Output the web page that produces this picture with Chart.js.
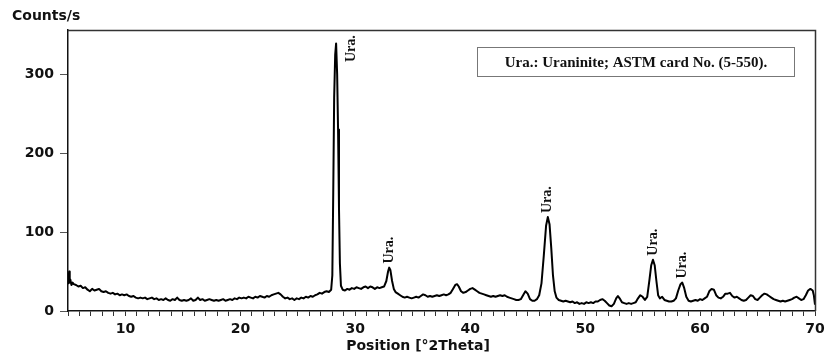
<!DOCTYPE html>
<html>
<head>
<meta charset="utf-8">
<script src="https://cdn.jsdelivr.net/npm/chart.js@4.4.0/dist/chart.umd.min.js"></script>
<style>
  html, body { margin: 0; padding: 0; background: #fff; overflow: hidden; }
  #wrap { width: 826px; height: 358px; }
  #xrd { display: block; }
</style>
</head>
<body>
<div id="wrap"><canvas id="xrd" width="826" height="358"></canvas></div>
<script>
// Diffraction pattern, position in degrees 2Theta and intensity in counts/s
const twoTheta = [
  5.0, 5.05, 5.1, 5.15, 5.2, 5.3, 5.4, 5.5, 5.7, 5.9, 6.1, 6.3, 6.5, 6.7, 6.9, 7.1, 7.3, 7.5, 7.7, 7.9,
  8.1, 8.3, 8.5, 8.7, 8.9, 9.1, 9.3, 9.5, 9.7, 9.9, 10.1, 10.3, 10.5, 10.7, 10.9, 11.1, 11.3, 11.5, 11.7, 11.9,
  12.1, 12.3, 12.5, 12.7, 12.9, 13.1, 13.3, 13.5, 13.7, 13.9, 14.1, 14.3, 14.5, 14.7, 14.9, 15.1, 15.3, 15.5, 15.7, 15.9,
  16.1, 16.3, 16.5, 16.7, 16.9, 17.1, 17.3, 17.5, 17.7, 17.9, 18.1, 18.3, 18.5, 18.7, 18.9, 19.1, 19.3, 19.5, 19.7, 19.9,
  20.1, 20.3, 20.5, 20.7, 20.9, 21.1, 21.3, 21.5, 21.7, 21.9, 22.1, 22.3, 22.5, 22.7, 22.9, 23.1, 23.3, 23.5, 23.7, 23.9,
  24.1, 24.3, 24.5, 24.7, 24.9, 25.1, 25.3, 25.5, 25.7, 25.9, 26.1, 26.3, 26.5, 26.7, 26.9, 27.1, 27.3, 27.5, 27.7, 27.9,
  28.0, 28.08, 28.16, 28.25, 28.33, 28.42, 28.5, 28.58, 28.66, 28.75, 28.9, 29.1, 29.3, 29.5, 29.7, 29.9,
  30.1, 30.3, 30.5, 30.7, 30.9, 31.1, 31.3, 31.5, 31.7, 31.9, 32.1, 32.3, 32.5, 32.7, 32.85, 32.95, 33.05, 33.2, 33.35, 33.5,
  33.7, 33.9, 34.1, 34.3, 34.5, 34.7, 34.9, 35.1, 35.3, 35.5, 35.7, 35.9, 36.1, 36.3, 36.5, 36.7, 36.9, 37.1, 37.3, 37.5,
  37.7, 37.9, 38.1, 38.3, 38.5, 38.7, 38.85, 39.0, 39.2, 39.4, 39.6, 39.8, 40.0, 40.2, 40.4, 40.6, 40.8, 41.0, 41.2, 41.4,
  41.6, 41.8, 42.0, 42.2, 42.4, 42.6, 42.8, 43.0, 43.2, 43.4, 43.6, 43.8, 44.0, 44.2, 44.4, 44.6, 44.8, 45.0, 45.2, 45.4,
  45.6, 45.8, 46.0, 46.2, 46.4, 46.6, 46.75, 46.9, 47.05, 47.2, 47.35, 47.5, 47.7, 47.9, 48.1, 48.3, 48.5, 48.7, 48.9, 49.1,
  49.3, 49.5, 49.7, 49.9, 50.1, 50.3, 50.5, 50.7, 50.9, 51.1, 51.3, 51.5, 51.7, 51.9, 52.1, 52.3, 52.5, 52.7, 52.85, 53.0,
  53.2, 53.4, 53.6, 53.8, 54.0, 54.2, 54.4, 54.6, 54.8, 55.0, 55.2, 55.4, 55.6, 55.75, 55.9, 56.05, 56.2, 56.35, 56.5, 56.7,
  56.9, 57.1, 57.3, 57.5, 57.7, 57.9, 58.1, 58.3, 58.45, 58.6, 58.8, 59.0, 59.2, 59.4, 59.6, 59.8, 60.0, 60.2, 60.4, 60.6,
  60.8, 61.0, 61.2, 61.4, 61.6, 61.8, 62.0, 62.2, 62.4, 62.6, 62.8, 63.0, 63.2, 63.4, 63.6, 63.8, 64.0, 64.2, 64.4, 64.6,
  64.8, 65.0, 65.2, 65.4, 65.6, 65.8, 66.0, 66.2, 66.4, 66.6, 66.8, 67.0, 67.2, 67.4, 67.6, 67.8, 68.0, 68.2, 68.4, 68.6,
  68.8, 69.0, 69.2, 69.4, 69.6, 69.8, 69.9, 70.0
];
const counts = [
  35, 42, 50, 36, 40, 33, 36, 34, 33, 31, 32, 29, 30, 27, 25, 28, 26, 27, 28, 25,
  24, 25, 23, 22, 23, 21, 22, 20, 21, 20, 21, 19, 18, 19, 17, 16, 17, 16, 17, 15,
  16, 17, 15, 16, 14, 15, 14, 16, 14, 13, 15, 14, 17, 14, 13, 14, 13, 14, 16, 13,
  14, 17, 14, 15, 13, 14, 15, 14, 13, 14, 13, 14, 15, 13, 14, 15, 14, 16, 15, 17,
  16, 17, 16, 18, 17, 16, 18, 17, 19, 18, 17, 19, 18, 20, 21, 22, 23, 21, 18, 16,
  17, 15, 16, 14, 16, 15, 17, 16, 18, 17, 19, 18, 20, 21, 23, 22, 24, 25, 24, 27,
  45, 150, 270, 325, 339, 300, 230, 130, 60, 32, 27, 26, 28, 27, 29, 28,
  30, 29, 28, 30, 31, 29, 31, 30, 28, 30, 29, 30, 31, 38, 50, 55, 52, 38, 28, 24,
  22, 20, 18, 17, 18, 17, 16, 17, 18, 17, 19, 21, 20, 18, 19, 18, 19, 20, 19, 20,
  21, 20, 21, 23, 28, 33, 34, 31, 25, 23, 24, 26, 28, 29, 27, 25, 23, 22, 21, 20,
  19, 18, 19, 18, 19, 20, 19, 20, 18, 17, 16, 15, 14, 14, 15, 20, 25, 22, 15, 13,
  13, 15, 20, 35, 70, 108, 119, 110, 80, 45, 25, 17, 14, 13, 12, 13, 12, 11, 12, 10,
  11, 9, 10, 9, 11, 10, 11, 10, 12, 12, 14, 15, 13, 10, 7, 6, 9, 16, 19, 16,
  11, 10, 9, 10, 9, 10, 11, 16, 20, 18, 14, 18, 40, 58, 65, 58, 38, 20, 16, 18,
  14, 13, 12, 12, 13, 16, 26, 34, 36, 30, 18, 13, 12, 13, 14, 13, 15, 14, 16, 18,
  25, 28, 27, 20, 17, 16, 18, 22, 22, 23, 19, 17, 18, 16, 14, 13, 14, 17, 20, 19,
  15, 14, 17, 20, 22, 21, 19, 17, 15, 14, 13, 12, 13, 12, 13, 14, 15, 17, 18, 16,
  14, 15, 20, 26, 28, 26, 20, 8
];

// peaks marked as uraninite
const uraPeaks = [28.33, 32.95, 46.75, 55.9, 58.45];
const uraCounts = [339, 55, 119, 65, 36];
const yTicks = [0, 100, 200, 300];
const legendText = 'Ura.: Uraninite; ASTM card No. (5-550).';

const sansBold = 'bold 14px "DejaVu Sans", sans-serif';
const serifBold = 'bold 14px "Liberation Serif", "Times New Roman", serif';
const tickFont = { family: '"DejaVu Sans", sans-serif', size: 14, weight: 'bold' };

// frame, peak tags, card note and axis titles
const annotate = {
  id: 'annotate',
  afterDraw(chart) {
    const ctx = chart.ctx;
    const a = chart.chartArea;
    const xs = chart.scales.x, ys = chart.scales.y;
    ctx.save();

    ctx.globalAlpha = 1;
    ctx.globalCompositeOperation = 'source-over';
    ctx.lineWidth = 1.5;
    ctx.strokeStyle = '#333';
    ctx.beginPath();
    ctx.moveTo(Math.round(a.left), Math.round(a.top) + 0.5);
    ctx.lineTo(Math.round(a.right) + 0.5, Math.round(a.top) + 0.5);
    ctx.lineTo(Math.round(a.right) + 0.5, Math.round(a.bottom));
    ctx.stroke();

    ctx.fillStyle = '#111';
    ctx.font = serifBold;
    ctx.textBaseline = 'middle';
    uraPeaks.forEach((p, i) => {
      let px = xs.getPixelForValue(p);
      let py = ys.getPixelForValue(uraCounts[i]) - 4;
      ctx.save();
      if (py - 28 < a.top) { px += 15; py = 62; }
      ctx.translate(px, py);
      ctx.rotate(-Math.PI / 2);
      ctx.textAlign = 'left';
      ctx.fillText('Ura.', 0, 0);
      ctx.restore();
    });

    // card note box
    ctx.lineWidth = 1;
    ctx.strokeStyle = '#777';
    ctx.strokeRect(477.5, 47.5, 317, 29);
    ctx.font = 'bold 15px "Liberation Serif", "Times New Roman", serif';
    ctx.textAlign = 'center';
    ctx.fillText(legendText, 636, 63);

    ctx.font = sansBold;
    ctx.textBaseline = 'alphabetic';
    ctx.textAlign = 'left';
    ctx.fillText('Counts/s', 12, 20);
    ctx.textAlign = 'center';
    ctx.fillText('Position [°2Theta]', 418, 350);
    ctx.restore();
  }
};

const ctx = document.getElementById('xrd').getContext('2d');
new Chart(ctx, {
  type: 'line',
  data: {
    datasets: [{
      data: twoTheta.map((t, i) => ({ x: t, y: counts[i] })),
      borderColor: '#000',
      borderWidth: 2,
      borderJoinStyle: 'round',
      pointRadius: 0,
      tension: 0,
      fill: false
    }]
  },
  options: {
    responsive: false,
    animation: false,
    layout: { padding: { top: 30, right: 11, left: 0, bottom: 0 } },
    plugins: { legend: { display: false }, tooltip: { enabled: false } },
    scales: {
      x: {
        type: 'linear',
        min: 5,
        max: 70,
        afterFit: s => { s.height = 47; s.paddingLeft = 0; s.paddingRight = 0; },
        border: { color: '#111', width: 1.5 },
        grid: { drawOnChartArea: false, tickLength: 5, color: '#333' },
        ticks: {
          stepSize: 1,
          autoSkip: false,
          maxRotation: 0,
          padding: 5,
          color: '#111',
          font: tickFont,
          callback: v => (v % 10 === 0 ? v : '')
        }
      },
      y: {
        min: 0,
        max: 356,
        afterFit: s => { s.width = 68; },
        afterBuildTicks: s => { s.ticks = yTicks.map(v => ({ value: v })); },
        border: { color: '#111', width: 1.5 },
        grid: { drawOnChartArea: false, tickLength: 8, color: '#555' },
        ticks: { padding: 6, color: '#111', font: tickFont }
      }
    }
  },
  plugins: [annotate]
});
</script>
</body>
</html>
